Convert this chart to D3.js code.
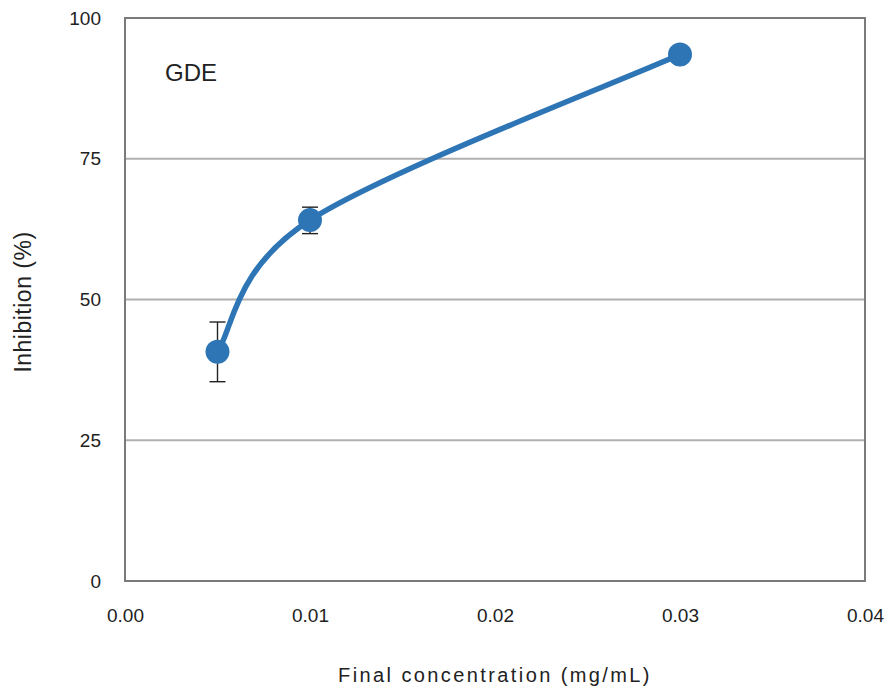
<!DOCTYPE html>
<html>
<head>
<meta charset="utf-8">
<script src="https://cdn.jsdelivr.net/npm/d3@7"></script>
<style>
  body { margin: 0; background: #fff; }
  text { font-family: "Liberation Sans", Arial, sans-serif; fill: #222; }
</style>
</head>
<body>
<svg id="chart" width="887" height="690"></svg>
<script>
// GDE inhibition vs. final concentration
const concentrations = [0.005, 0.01, 0.03];
const inhibition = [40.7, 64.1, 93.5];
const errLow = [35.4, 61.7, 93.5];
const errHigh = [46.0, 66.4, 93.5];
const xTicks = [0, 0.01, 0.02, 0.03, 0.04];
const yTicks = [0, 25, 50, 75, 100];
const seriesLabel = "GDE";

const svg = d3.select("#chart");
const plotLeft = 125, plotRight = 865, plotTop = 18, plotBottom = 581;

const x = d3.scaleLinear().domain([0, 0.04]).range([plotLeft, plotRight]);
const y = d3.scaleLinear().domain([0, 100]).range([plotBottom, plotTop]);

// spreadsheet-style smoothing: cubic Bézier segments, tangents (P[i+1]-P[i-1])/6,
// end points use their single neighbour
function smoothCurve(context) {
  return {
    areaStart() {}, areaEnd() {},
    lineStart() { this.p = []; },
    point(px, py) { this.p.push([px, py]); },
    lineEnd() {
      const p = this.p, n = p.length;
      if (!n) return;
      context.moveTo(p[0][0], p[0][1]);
      for (let i = 0; i < n - 1; i++) {
        const a = p[Math.max(i - 1, 0)], b = p[i], c = p[i + 1], d = p[Math.min(i + 2, n - 1)];
        context.bezierCurveTo(
          b[0] + (c[0] - a[0]) / 6, b[1] + (c[1] - a[1]) / 6,
          c[0] - (d[0] - b[0]) / 6, c[1] - (d[1] - b[1]) / 6,
          c[0], c[1]);
      }
    }
  };
}

// horizontal gridlines
svg.append("g").selectAll("line")
  .data(yTicks.filter(d => d > 0 && d < 100))
  .join("line")
  .attr("x1", plotLeft).attr("x2", plotRight)
  .attr("y1", d => y(d)).attr("y2", d => y(d))
  .attr("stroke", "#b0b0b0").attr("stroke-width", 2);

// plot frame
svg.append("rect")
  .attr("x", plotLeft).attr("y", plotTop)
  .attr("width", plotRight - plotLeft).attr("height", plotBottom - plotTop)
  .attr("fill", "none").attr("stroke", "#7a7a7a").attr("stroke-width", 2);

// y axis labels
const yAxis = d3.axisLeft(y).tickValues(yTicks).tickSize(0).tickPadding(24).tickFormat(d3.format("d"));
const gy = svg.append("g").attr("transform", `translate(${plotLeft},0)`).call(yAxis);
gy.select(".domain").remove();
gy.selectAll("text").style("font-size", "19px").style("font-family", "Liberation Sans, Arial, sans-serif").attr("fill", "#222");

// x axis labels
const xAxis = d3.axisBottom(x).tickValues(xTicks).tickSize(0).tickPadding(28).tickFormat(d3.format(".2f"));
const gx = svg.append("g").attr("transform", `translate(0,${plotBottom})`).call(xAxis);
gx.select(".domain").remove();
gx.selectAll("text").style("font-size", "19px").style("font-family", "Liberation Sans, Arial, sans-serif").attr("fill", "#222");

// axis titles
svg.append("text")
  .attr("x", (plotLeft + plotRight) / 2).attr("y", 682)
  .attr("text-anchor", "middle")
  .style("font-size", "20px")
  .style("letter-spacing", "2.4px")
  .text("Final concentration (mg/mL)");

svg.append("text")
  .attr("transform", `translate(31,302) rotate(-90)`)
  .attr("text-anchor", "middle")
  .style("font-size", "23px")
  .style("letter-spacing", "0.5px")
  .text("Inhibition (%)");

// series label
svg.append("text")
  .attr("x", 165).attr("y", 81)
  .style("font-size", "24px")
  .text(seriesLabel);

const pts = concentrations.map((c, i) => ({ c, v: inhibition[i], lo: errLow[i], hi: errHigh[i] }));

// error bars
const eb = svg.append("g").attr("stroke", "#222").attr("stroke-width", 1.4);
pts.filter(d => d.hi > d.lo).forEach(d => {
  eb.append("line").attr("x1", x(d.c)).attr("x2", x(d.c)).attr("y1", y(d.lo)).attr("y2", y(d.hi));
  eb.append("line").attr("x1", x(d.c) - 8).attr("x2", x(d.c) + 8).attr("y1", y(d.lo)).attr("y2", y(d.lo));
  eb.append("line").attr("x1", x(d.c) - 8).attr("x2", x(d.c) + 8).attr("y1", y(d.hi)).attr("y2", y(d.hi));
});

// smoothed line
const line = d3.line().x(d => x(d.c)).y(d => y(d.v)).curve(smoothCurve);
svg.append("path").datum(pts)
  .attr("d", line)
  .attr("fill", "none").attr("stroke", "#2e75b6").attr("stroke-width", 5.5)
  .attr("stroke-linecap", "round");

// markers
svg.append("g").selectAll("circle").data(pts).join("circle")
  .attr("cx", d => x(d.c)).attr("cy", d => y(d.v))
  .attr("r", 12).attr("fill", "#2e75b6");
</script>
</body>
</html>
